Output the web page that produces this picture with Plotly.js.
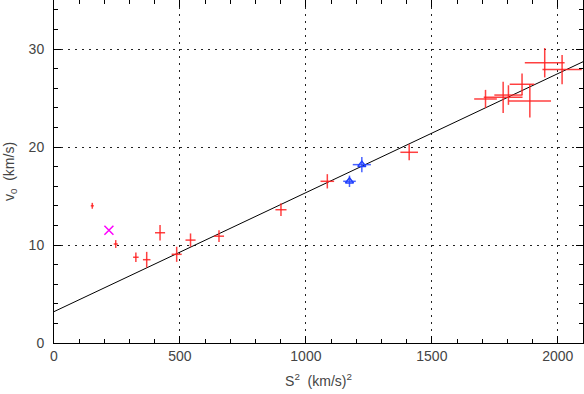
<!DOCTYPE html>
<html>
<head>
<script src="https://cdn.plot.ly/plotly-3.0.1.min.js"></script>
<style>body{margin:0;} #chart{width:584px;height:394px;}</style>
</head>
<body>
<div id="chart"></div>
<script>
// red points: S^2, v0 and their errors
var redX  = [152, 245, 325, 368, 421, 487, 542, 655, 901, 1085, 1410, 1713, 1783, 1804, 1858, 1889, 1948, 2017];
var redY  = [14.0, 10.1, 8.75, 8.5, 11.25, 9.05, 10.5, 10.9, 13.6, 16.5, 19.46, 24.9, 25.07, 25.3, 26.4, 24.7, 28.6, 27.9];
var redXe = [6, 8, 11, 15, 20, 20, 20, 20, 22, 27, 35, 45, 77, 56, 49, 84, 79, 78];
var redYe = [0.3, 0.4, 0.48, 0.8, 0.8, 0.77, 0.68, 0.6, 0.65, 0.73, 0.82, 0.93, 1.6, 1.0, 1.1, 1.7, 1.5, 1.5];

// blue points
var blueX  = [1173, 1222];
var blueY  = [16.5, 18.2];
var blueXe = [25, 36];
var blueYe = [0.58, 0.77];

// magenta point
var magX = [218];
var magY = [11.5];

// linear fit
var fitX = [0, 2100];
var fitY = [3.2, 28.7];

var fnt = {family: 'Liberation Sans, Arial, sans-serif', size: 14, color: '#444'};

var traces = [
  {x: fitX, y: fitY, mode: 'lines', line: {color: 'black', width: 1}, hoverinfo: 'skip'},
  {x: redX, y: redY, mode: 'markers', marker: {size: 1, color: 'rgba(0,0,0,0)'},
   error_x: {type: 'data', array: redXe, color: 'rgba(255,30,30,0.85)', thickness: 1.5, width: 0},
   error_y: {type: 'data', array: redYe, color: 'rgba(255,30,30,0.85)', thickness: 1.5, width: 0}},
  {x: blueX, y: blueY, mode: 'markers',
   marker: {symbol: 'triangle-up-open', size: 7, color: '#2040ff', line: {width: 1.5}},
   error_x: {type: 'data', array: blueXe, color: 'rgba(40,70,255,0.85)', thickness: 1.5, width: 0},
   error_y: {type: 'data', array: blueYe, color: 'rgba(40,70,255,0.85)', thickness: 1.5, width: 0}},
  {x: magX, y: magY, mode: 'markers',
   marker: {symbol: 'x-thin-open', size: 9, color: '#ff00ff', line: {width: 1.5, color: '#ff00ff'}}}
];

var layout = {
  width: 584, height: 394,
  margin: {l: 54, r: 1, t: 0, b: 51},
  showlegend: false,
  paper_bgcolor: 'white', plot_bgcolor: 'white',
  font: fnt,
  xaxis: {
    range: [0, 2100], tickvals: [0, 500, 1000, 1500, 2000],
    ticks: 'inside', ticklen: 7, tickcolor: 'black',
    showline: true, linecolor: 'black', linewidth: 1, mirror: 'ticks',
    showgrid: true, gridcolor: '#222', gridwidth: 1, griddash: '2px,5px',
    zeroline: false,
    minor: {dtick: 100, ticks: 'inside', ticklen: 4, tickcolor: 'black', showgrid: false},
    title: {text: 'S<sup>2</sup>  (km/s)<sup>2</sup>', font: fnt, standoff: 13}
  },
  yaxis: {
    range: [0, 35], tickvals: [0, 10, 20, 30],
    ticks: 'inside', ticklen: 7, tickcolor: 'black', ticklabelstandoff: 6,
    showline: true, linecolor: 'black', linewidth: 1, mirror: 'ticks',
    showgrid: true, gridcolor: '#222', gridwidth: 1, griddash: '2px,5px',
    zeroline: false,
    minor: {dtick: 2, ticks: 'inside', ticklen: 4, tickcolor: 'black', showgrid: false},
    title: {text: 'v<sub>0</sub>  (km/s)', font: fnt, standoff: 10}
  }
};

Plotly.newPlot('chart', traces, layout, {displayModeBar: false, staticPlot: true});
</script>
</body>
</html>
